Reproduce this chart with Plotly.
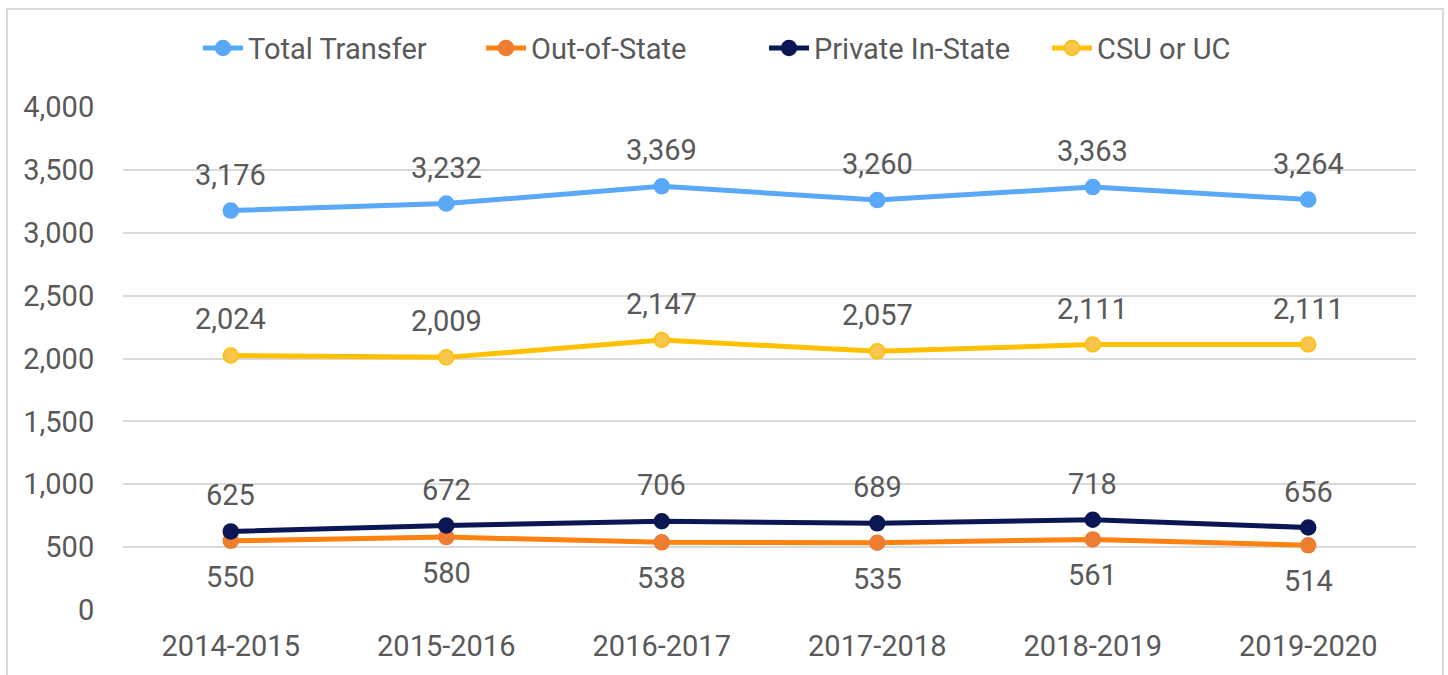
import plotly.graph_objects as go

years = ["2014-2015", "2015-2016", "2016-2017", "2017-2018", "2018-2019", "2019-2020"]
total_transfer = [3176, 3232, 3369, 3260, 3363, 3264]
out_of_state = [550, 580, 538, 535, 561, 514]
private_in_state = [625, 672, 706, 689, 718, 656]
csu_or_uc = [2024, 2009, 2147, 2057, 2111, 2111]

TXT = "#595959"
FONT = "Roboto"
FS = 29

series = [
    ("Total Transfer", total_transfer, "#5AA8F8", "#5AA8F8", "#5AA8F8", 1),
    ("Out-of-State", out_of_state, "#FF8210", "#ED7D31", "#ED7D31", -1),
    ("Private In-State", private_in_state, "#0B1654", "#0B1654", "#0B1654", 1),
    ("CSU or UC", csu_or_uc, "#FFC000", "#F8C54E", "#FFC000", 1),
]

fig = go.Figure()
annotations = []
for name, vals, lc, mc, mlc, side in series:
    fig.add_trace(go.Scatter(
        x=years, y=vals, name=name, mode="lines+markers",
        line=dict(color=lc, width=5),
        marker=dict(size=15, color=mc, line=dict(color=mlc, width=1.5)),
        cliponaxis=False,
    ))
    for xv, yv in zip(years, vals):
        annotations.append(dict(
            x=xv, y=yv, xref="x", yref="y", text=f"{yv:,}", showarrow=False,
            yshift=36 * side, xanchor="center", yanchor="middle",
            font=dict(family=FONT, size=FS, color=TXT)))

fig.update_layout(
    width=1448, height=675,
    margin=dict(l=123, r=32, t=107, b=61),
    paper_bgcolor="white", plot_bgcolor="white",
    font=dict(family=FONT, size=FS, color=TXT),
    showlegend=True,
    legend=dict(orientation="h", x=(198 - 123) / 1293, xanchor="left", y=1.117, yanchor="middle",
                font=dict(family=FONT, size=FS, color=TXT), itemwidth=40,
                entrywidth=228, entrywidthmode="pixels",
                traceorder="normal", bgcolor="rgba(0,0,0,0)"),
    xaxis=dict(type="category", range=[-0.5, 5.5], showgrid=False, showline=False,
               ticks="outside", ticklen=10, tickcolor="rgba(0,0,0,0)",
               tickfont=dict(family=FONT, size=FS, color=TXT), zeroline=False),
    yaxis=dict(range=[0, 4000], dtick=500, tickformat=",", showgrid=True,
               gridcolor="#D9D9D9", gridwidth=1.5, zeroline=False, showline=False,
               ticks="outside", ticklen=22, tickcolor="rgba(0,0,0,0)",
               tickfont=dict(family=FONT, size=FS, color=TXT)),
    annotations=annotations,
    shapes=[dict(type="rect", xref="paper", yref="paper",
                 x0=(7 - 123) / 1293, x1=(1443 - 123) / 1293,
                 y0=(610 - 690) / 503, y1=(610 - 9) / 503,
                 line=dict(color="#D9D9D9", width=2), fillcolor="rgba(0,0,0,0)", layer="below")],
)

fig.write_html("out.html")
